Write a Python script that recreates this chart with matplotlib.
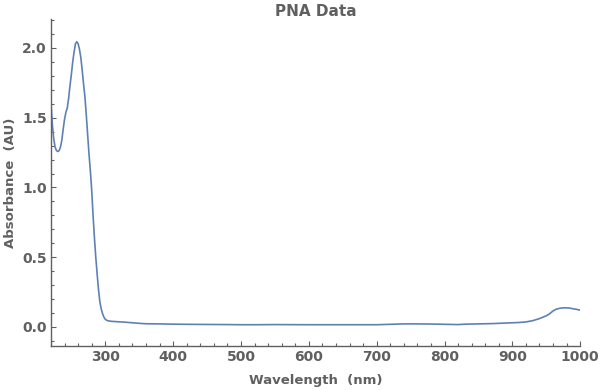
import numpy as np
import matplotlib
matplotlib.use("Agg")
import matplotlib.pyplot as plt
from matplotlib.ticker import MultipleLocator

# absorbance spectrum
wavelength = [220, 222, 224, 226, 228, 230, 232, 234, 236, 238, 240, 242, 244,
              246, 248, 250, 252, 254, 256, 258, 260, 262, 264, 266, 268, 270,
              272, 274, 276, 278, 280, 282, 284, 286, 288, 290, 292, 294, 296,
              298, 300, 302, 305, 310, 320, 330, 340, 350, 360, 380, 400, 420,
              450, 480, 500, 520, 550, 600, 650, 700, 720, 740, 760, 780, 800,
              810, 820, 830, 850, 870, 890, 900, 910, 920, 930, 940, 950, 955,
              960, 965, 970, 975, 980, 985, 990, 995, 1000]
absorbance = [1.60, 1.45, 1.35, 1.29, 1.265, 1.258, 1.265, 1.29, 1.34, 1.42,
              1.49, 1.54, 1.57, 1.64, 1.73, 1.81, 1.90, 1.97, 2.03, 2.045,
              2.03, 1.99, 1.93, 1.84, 1.74, 1.65, 1.52, 1.38, 1.24, 1.12, 0.98,
              0.80, 0.64, 0.50, 0.38, 0.27, 0.18, 0.13, 0.095, 0.07, 0.055,
              0.048, 0.043, 0.040, 0.037, 0.034, 0.030, 0.026, 0.023, 0.022,
              0.020, 0.019, 0.018, 0.017, 0.016, 0.016, 0.017, 0.016, 0.016,
              0.016, 0.019, 0.022, 0.022, 0.021, 0.019, 0.018, 0.017, 0.020,
              0.022, 0.024, 0.028, 0.030, 0.032, 0.036, 0.045, 0.060, 0.080,
              0.095, 0.115, 0.128, 0.134, 0.137, 0.137, 0.135, 0.130, 0.126,
              0.120]

grey = "#606060"
plt.rcParams["font.family"] = "DejaVu Sans"
plt.rcParams["font.weight"] = "bold"

fig = plt.figure(figsize=(6, 3.9), dpi=100)
ax = fig.add_axes([0.085, 0.113, 0.882, 0.838])
ax.plot(wavelength, absorbance, color="#5E81B5", lw=1.2)

ax.set_xlim(220, 1000)
ax.set_ylim(-0.136, 2.207)
ax.xaxis.set_major_locator(MultipleLocator(100))
ax.xaxis.set_minor_locator(MultipleLocator(20))
ax.yaxis.set_major_locator(MultipleLocator(0.5))
ax.yaxis.set_minor_locator(MultipleLocator(0.1))
ax.yaxis.set_major_formatter(plt.FormatStrFormatter("%.1f"))

for s in ["top", "right"]:
    ax.spines[s].set_visible(False)
for s in ["left", "bottom"]:
    ax.spines[s].set_color(grey)
    ax.spines[s].set_linewidth(1.0)
ax.tick_params(which="both", direction="in", colors=grey, labelsize=10,
               width=0.8)
ax.tick_params(which="major", length=3.5, pad=3)
ax.tick_params(which="minor", length=2)
for lbl in ax.get_xticklabels() + ax.get_yticklabels():
    lbl.set_fontweight("bold")

ax.set_xlabel("Wavelength  (nm)", color=grey, fontsize=9.5, fontweight="bold",
              labelpad=7)
ax.set_ylabel("Absorbance  (AU)", color=grey, fontsize=9.5, fontweight="bold",
              labelpad=4)
ax.set_title("PNA Data", color=grey, fontsize=11, fontweight="bold", pad=2)

fig.savefig("out.png", dpi=100)
